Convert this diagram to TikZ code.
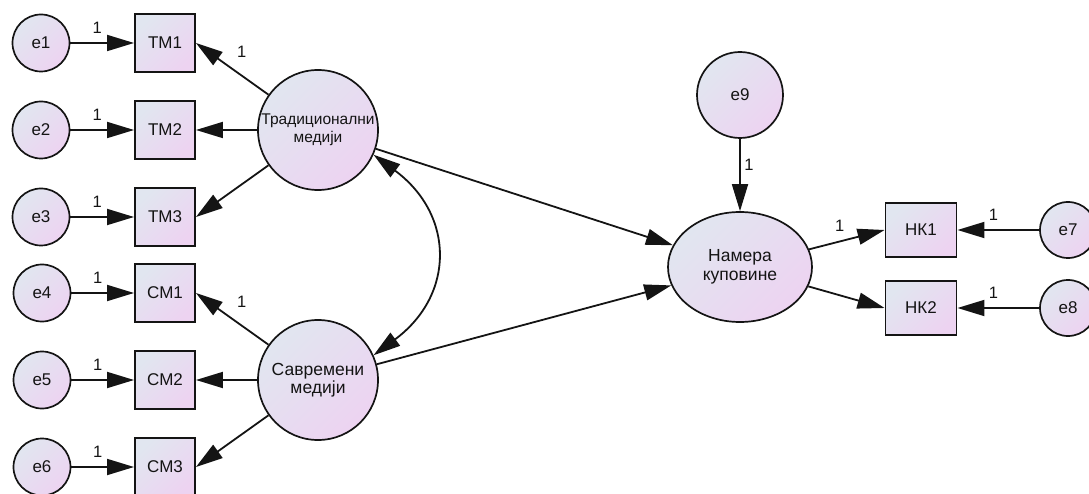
\documentclass[tikz,border=0pt]{standalone}
\usepackage{fontspec}
\setmainfont{Liberation Sans}
\usetikzlibrary{arrows.meta,shapes.geometric}

\definecolor{gradA}{RGB}{225,230,240}
\definecolor{gradB}{RGB}{237,211,241}
\definecolor{ink}{RGB}{20,20,20}

\begin{document}
\begin{tikzpicture}[x=1pt,y=-1pt,
  >={Triangle[length=27pt,width=16pt]},
  every node/.style={font=\fontsize{17}{19}\selectfont, text=ink},
  fillgrad/.style={shading=axis, top color=gradA, bottom color=gradB, shading angle=45},
  errc/.style={circle, draw=ink, line width=1.7pt, fillgrad, minimum size=57pt, inner sep=0pt},
  obs/.style={rectangle, draw=ink, line width=1.9pt, fillgrad, minimum width=60pt, minimum height=58pt, inner sep=0pt},
  obswide/.style={obs, minimum width=71pt, minimum height=54pt},
  lat/.style={circle, draw=ink, line width=1.7pt, fillgrad, minimum size=120pt, inner sep=0pt, align=center},
  conn/.style={draw=ink, line width=1.8pt, ->},
  one/.style={font=\fontsize{16.5}{18}\selectfont, inner sep=0pt}
]
\useasboundingbox (0,0) rectangle (1089,494);

% indicators of the traditional media factor
\node[errc] (e1) at (41,43)  {e1};
\node[obs]  (tm1) at (165,43) {TM1};
\node[errc] (e2) at (41,130) {e2};
\node[obs]  (tm2) at (165,130) {TM2};
\node[errc] (e3) at (41,217) {e3};
\node[obs]  (tm3) at (165,217) {TM3};

% indicators of the modern media factor
\node[errc] (e4) at (42,293) {e4};
\node[obs]  (cm1) at (165,293) {CM1};
\node[errc] (e5) at (42,380) {e5};
\node[obs]  (cm2) at (165,380) {CM2};
\node[errc] (e6) at (42,467) {e6};
\node[obs]  (cm3) at (165,467) {CM3};

% latent factors
\node[lat, font=\fontsize{15.5}{17.7}\selectfont] (trad) at (318,130) {Традиционални\\медији};
\node[lat, font=\fontsize{17.5}{18.5}\selectfont] (savr) at (318,380) {Савремени\\медији};

% purchase intention
\node[errc, minimum size=86pt] (e9) at (740,95) {e9};
\node[ellipse, draw=ink, line width=1.7pt, fillgrad, minimum width=144pt, minimum height=110pt,
      inner sep=0pt, align=center, font=\fontsize{17.5}{19}\selectfont] (nam) at (740,267) {Намера\\куповине};
\node[obswide] (nk1) at (921,230) {НК1};
\node[obswide] (nk2) at (921,308) {НК2};
\node[errc, minimum size=56pt] (e7) at (1068,230) {e7};
\node[errc, minimum size=56pt] (e8) at (1068,308) {e8};

% error terms into indicators
\foreach \e/\m in {e1/tm1,e2/tm2,e3/tm3,e4/cm1,e5/cm2,e6/cm3}
  \draw[conn] (\e) -- node[one, pos=0.42, yshift=15pt] {1} (\m);
\draw[conn] (e7) -- node[one, pos=0.56, yshift=15pt] {1} (nk1);
\draw[conn] (e8) -- node[one, pos=0.56, yshift=15pt] {1} (nk2);

% factor loadings
\draw[conn] (trad) -- node[one, pos=0.52, xshift=11pt, yshift=16pt] {1} (tm1.east);
\draw[conn] (trad) -- (tm2);
\draw[conn] (trad) -- (tm3.east);
\draw[conn] (savr) -- node[one, pos=0.52, xshift=11pt, yshift=16pt] {1} (cm1.east);
\draw[conn] (savr) -- (cm2);
\draw[conn] (savr) -- (cm3.east);

% structural paths
\draw[conn] (trad) -- (nam);
\draw[conn] (savr) -- (nam);
\draw[conn] (e9) -- node[one, pos=0.36, xshift=9pt] {1} (nam);
\draw[conn] (nam) -- node[one, pos=0.46, xshift=-4pt, yshift=15pt] {1} (nk1.west);
\draw[conn] (nam) -- (nk2.west);

% covariance between the factors
\draw[draw=ink, line width=1.8pt, <->] (trad.-24) .. controls (455,215) and (455,295) .. (savr.24);
\end{tikzpicture}
\end{document}
